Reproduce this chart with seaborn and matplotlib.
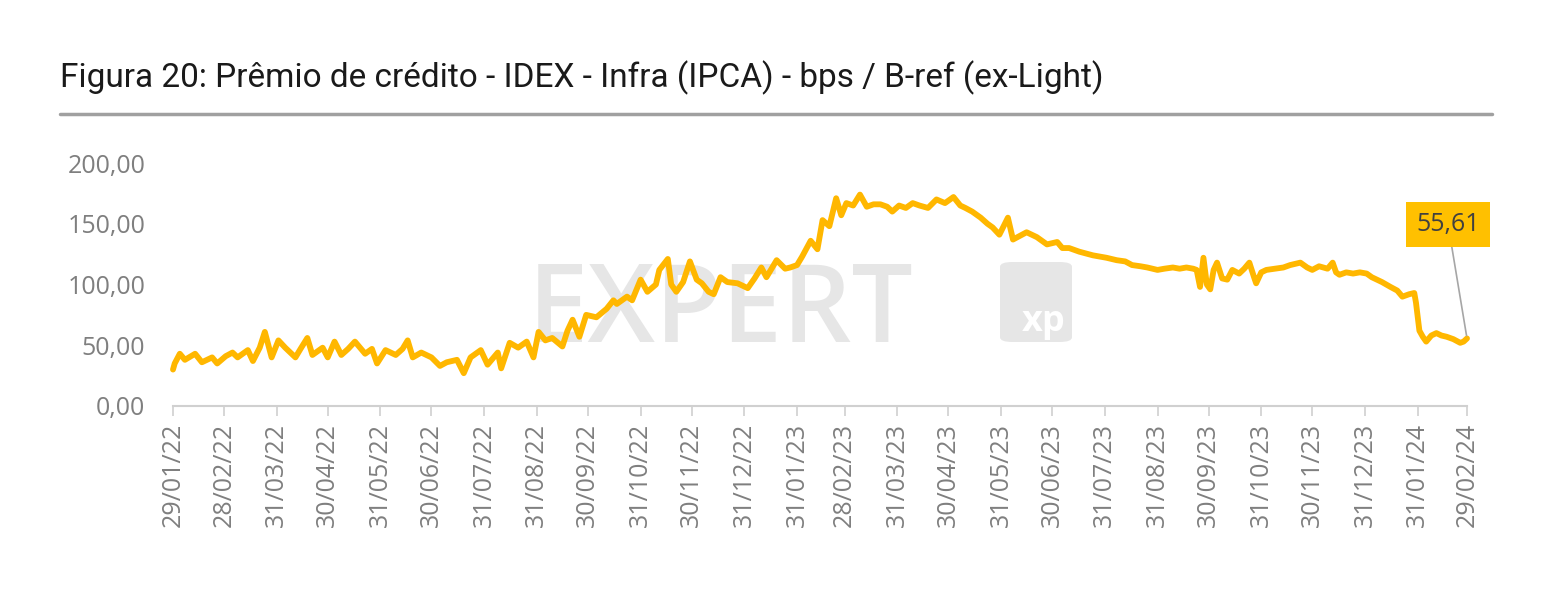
import pandas as pd
import numpy as np
import matplotlib
matplotlib.use("Agg")
import matplotlib.pyplot as plt
from matplotlib.lines import Line2D
from matplotlib.patches import FancyBboxPatch
from matplotlib.ticker import FuncFormatter
import seaborn as sns

# ---------------- data ----------------
start_date = "2022-01-29"
day_offsets = [
    0, 1, 4, 7, 13, 17, 23, 26, 31, 35, 38, 44, 47, 51, 54, 58, 62, 66, 72, 75,
    79, 82, 88, 91, 95, 99, 103, 107, 113, 117, 120, 125, 131, 135, 138, 141, 146, 152, 157, 161,
    167, 171, 175, 181, 185, 191, 193, 198, 203, 208, 212, 215, 219, 223, 229, 232, 235, 239, 243, 249,
    255, 259, 261, 267, 270, 275, 279, 284, 286, 291, 293, 296, 300, 304, 308, 311, 315, 318, 322, 326,
    332, 338, 342, 346, 349, 355, 360, 363, 367, 370, 375, 379, 382, 386, 390, 393, 396, 400, 404, 408,
    412, 416, 420, 423, 427, 431, 435, 439, 444, 449, 454, 459, 463, 466, 470, 475, 479, 482, 486, 491,
    494, 498, 502, 508, 514, 520, 523, 527, 533, 541, 545, 549, 555, 560, 564, 569, 573, 579, 583, 588,
    592, 596, 600, 602, 604, 606, 608, 610, 612, 614, 617, 620, 623, 627, 630, 633, 636, 637, 640, 643,
    648, 653, 657, 663, 667, 670, 674, 679, 682, 684, 686, 690, 694, 698, 702, 705, 708, 711, 716, 720,
    723, 727, 730, 731, 733, 735, 737, 740, 743, 746, 749, 753, 757, 759, 761,
]
premio_bps = [
    30, 35, 43, 38, 43, 36, 40, 35, 41, 44, 40, 46, 37, 48, 61, 40, 54, 48, 40, 47,
    56, 42, 48, 40, 53, 42, 47, 53, 43, 47, 35, 46, 42, 47, 54, 40, 44, 40, 33, 36,
    38, 27, 40, 46, 34, 44, 31, 52, 48, 53, 40, 61, 54, 56, 49, 62, 71, 57, 75, 73,
    80, 87, 84, 90, 87, 104, 94, 100, 112, 121, 100, 94, 102, 119, 104, 101, 94, 92, 106, 102,
    101, 97, 105, 114, 106, 120, 113, 114, 116, 123, 136, 129, 153, 148, 171, 157, 167, 165, 174, 164,
    166, 166, 164, 160, 165, 163, 167, 165, 163, 170, 167, 172, 165, 163, 160, 155, 150, 147, 141, 155,
    137, 140, 143, 139, 133, 135, 130, 130, 127, 124, 123, 122, 120, 119, 116, 115, 114, 112, 113, 114,
    113, 114, 113, 112, 98, 122, 100, 96, 112, 118, 105, 104, 112, 109, 113, 118, 105, 101, 110, 112,
    113, 114, 116, 118, 114, 112, 115, 113, 118, 110, 108, 110, 109, 110, 109, 106, 104, 102, 98, 95,
    90, 92, 93, 85, 62, 57, 53, 58, 60, 58, 57, 55, 52, 53, 55.61,
]
tick_dates = [
    "2022-01-29", "2022-02-28", "2022-03-31", "2022-04-30", "2022-05-31", "2022-06-30",
    "2022-07-31", "2022-08-31", "2022-09-30", "2022-10-31", "2022-11-30", "2022-12-31",
    "2023-01-31", "2023-02-28", "2023-03-31", "2023-04-30", "2023-05-31", "2023-06-30",
    "2023-07-31", "2023-08-31", "2023-09-30", "2023-10-31", "2023-11-30", "2023-12-31",
    "2024-01-31", "2024-02-29",
]
y_ticks = [0, 50, 100, 150, 200]
last_label = "55,61"
title = "Figura 20: Prêmio de crédito - IDEX - Infra (IPCA) - bps / B-ref (ex-Light)"

df = pd.DataFrame({
    "data": pd.Timestamp(start_date) + pd.to_timedelta(day_offsets, unit="D"),
    "premio": premio_bps,
})
ticks = pd.to_datetime(tick_dates)

# ---------------- style ----------------
sns.set_style("white")
plt.rcParams["font.family"] = ["Open Sans", "DejaVu Sans"]

line_color = "#FFB700"
gray_txt = "#7F7F7F"

fig = plt.figure(figsize=(15.68, 5.90), dpi=100)
ax = fig.add_axes([173 / 1568, (590 - 406) / 590, (1467 - 173) / 1568, (406 - 163) / 590])

# watermark (drawn inside the axes, below the line)
ax.text(528 / 1568, (590 - 342) / 590, "EXPERT", fontsize=78, fontweight="semibold",
        color="#E6E6E6", ha="left", va="baseline", zorder=0, transform=fig.transFigure,
        family=["Open Sans", "DejaVu Sans"], clip_on=False)
box = FancyBboxPatch((1000 / 1568, (590 - 342) / 590), 72 / 1568, 80 / 590,
                     boxstyle="round,pad=0,rounding_size=0.008", transform=fig.transFigure,
                     facecolor="#E6E6E6", edgecolor="none", zorder=0, clip_on=False)
ax.add_patch(box)
ax.text(1044 / 1568, (590 - 322) / 590, "xp", color="white", fontsize=26, fontweight="bold",
        ha="center", va="center", zorder=1, transform=fig.transFigure, clip_on=False)

sns.lineplot(data=df, x="data", y="premio", ax=ax, color=line_color, linewidth=4.2,
             zorder=3, clip_on=False)

ax.set_xlim(ticks[0], ticks[-1])
ax.set_ylim(0, 200)
ax.set_xticks(ticks)
ax.set_xticklabels([t.strftime("%d/%m/%y") for t in ticks], rotation=90,
                   color=gray_txt, fontsize=18)
ax.set_yticks(y_ticks)
ax.yaxis.set_major_formatter(FuncFormatter(lambda v, p: f"{v:.2f}".replace(".", ",")))
ax.tick_params(axis="y", length=0, pad=20, labelsize=18, labelcolor=gray_txt)
ax.tick_params(axis="x", length=7, width=1.2, color="#D0D0D0", pad=5, direction="out",
               bottom=True)
ax.set_xlabel("")
ax.set_ylabel("")
for s in ["left", "right", "top"]:
    ax.spines[s].set_visible(False)
ax.spines["bottom"].set_color("#D0D0D0")
ax.spines["bottom"].set_linewidth(1.5)

# data label for last value
last_x = df["data"].iloc[-1]
last_y = df["premio"].iloc[-1]
ax.annotate(last_label, xy=(last_x, last_y), xycoords="data",
            xytext=(1448 / 1568, (590 - 224) / 590), textcoords="figure fraction",
            ha="center", va="center", fontsize=18, color="#404040",
            bbox=dict(boxstyle="square,pad=0.4", facecolor="#FFC000", edgecolor="none"),
            arrowprops=dict(arrowstyle="-", color="#A6A6A6", lw=1.2, shrinkA=0, shrinkB=2),
            annotation_clip=False, zorder=5)

# title and rule
fig.text(60 / 1568, (590 - 87) / 590, title, fontsize=24, color="#1A1A1A",
         ha="left", va="baseline", family=["Roboto", "DejaVu Sans"])
fig.add_artist(Line2D([60 / 1568, 1492 / 1568], [(590 - 114) / 590] * 2,
                      transform=fig.transFigure, color="#A0A0A0", lw=2.5))

fig.savefig("out.png", dpi=100, facecolor="white")
